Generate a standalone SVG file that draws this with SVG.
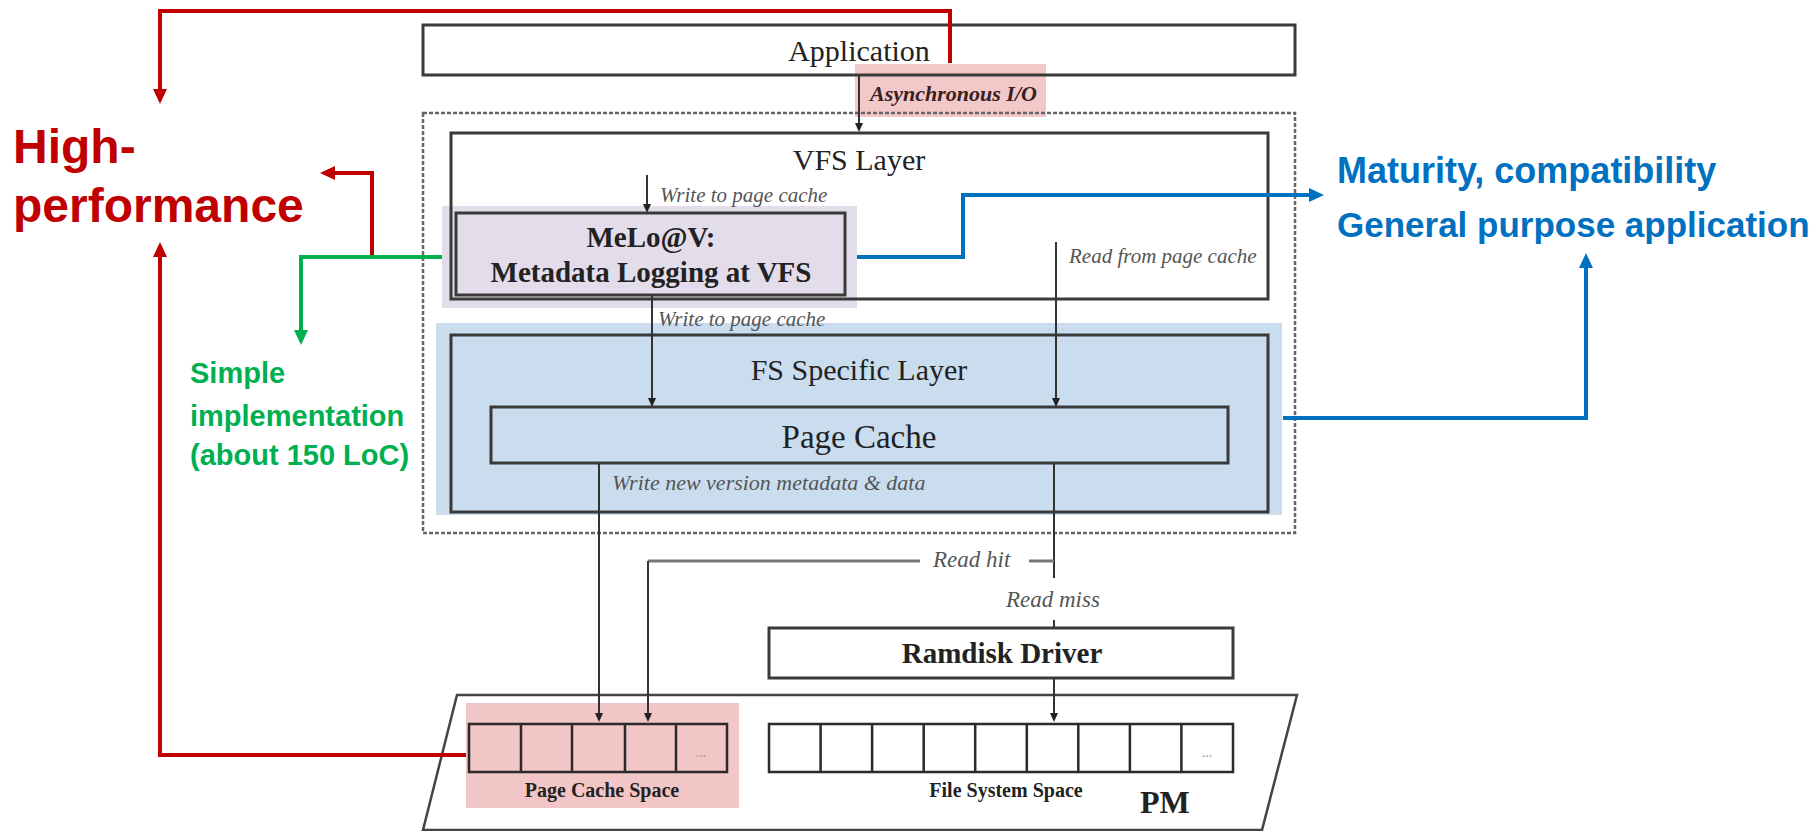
<svg xmlns="http://www.w3.org/2000/svg" width="1816" height="831" viewBox="0 0 1816 831">
<style>
.box{fill:none;stroke:#3a3a3a;stroke-width:3}
.cell{fill:none;stroke:#2a2a2a;stroke-width:2.5}
.serif{font-family:"Liberation Serif","Times New Roman",serif;fill:#222}
.lbl{font-family:"Liberation Serif","Times New Roman",serif;font-style:italic;fill:#555}
.sans{font-family:"Liberation Sans",Arial,sans-serif;font-weight:bold}
.ln{fill:none;stroke:#333;stroke-width:2}
.red{fill:none;stroke:#c00000;stroke-width:4}
.green{fill:none;stroke:#00b050;stroke-width:4}
.blue{fill:none;stroke:#0070c0;stroke-width:4}
</style>
<defs>
<marker id="ar" viewBox="0 0 15 14" markerWidth="15" markerHeight="14" refX="5" refY="7" orient="auto" markerUnits="userSpaceOnUse"><path d="M0,0 L15,7 L0,14 z" fill="#c00000"/></marker>
<marker id="ag" viewBox="0 0 15 14" markerWidth="15" markerHeight="14" refX="5" refY="7" orient="auto" markerUnits="userSpaceOnUse"><path d="M0,0 L15,7 L0,14 z" fill="#00b050"/></marker>
<marker id="ab" viewBox="0 0 15 14" markerWidth="15" markerHeight="14" refX="5" refY="7" orient="auto" markerUnits="userSpaceOnUse"><path d="M0,0 L15,7 L0,14 z" fill="#0070c0"/></marker>
<marker id="ak" viewBox="0 0 9 8" markerWidth="9" markerHeight="8" refX="6" refY="4" orient="auto" markerUnits="userSpaceOnUse"><path d="M0,0 L9,4 L0,8 z" fill="#222"/></marker>
</defs>
<rect width="1816" height="831" fill="#fff"/>

<g id="highlights">
<rect x="855" y="64" width="191" height="53" fill="#f2c8c8"/>
<rect x="442" y="206" width="415" height="102" fill="#e3dcea"/>
<rect x="436" y="323" width="846" height="192" fill="#c9ddef"/>
<rect x="466" y="703" width="273" height="105" fill="#f2c6c6"/>
</g>

<g id="kernel-boundary">
<rect x="423" y="113" width="872" height="420" fill="none" stroke="#666" stroke-width="2.5" stroke-dasharray="4 2"/>
</g>

<g id="application">
<rect class="box" x="423" y="25" width="872" height="50"/>
<text class="serif" x="859" y="61" font-size="30" text-anchor="middle">Application</text>
</g>

<g id="vfs-layer">
<rect class="box" x="451" y="133" width="817" height="166"/>
<text class="serif" x="859" y="170" font-size="30" text-anchor="middle">VFS Layer</text>
</g>

<g id="melo">
<rect class="box" x="456" y="213" width="389" height="82" stroke-width="4"/>
<text class="serif" x="651" y="247" font-size="29" font-weight="bold" text-anchor="middle">MeLo@V:</text>
<text class="serif" x="651" y="282" font-size="29" font-weight="bold" text-anchor="middle">Metadata Logging at VFS</text>
</g>

<g id="fs-specific-layer">
<rect class="box" x="451" y="335" width="817" height="177"/>
<text class="serif" x="859" y="380" font-size="30" text-anchor="middle">FS Specific Layer</text>
</g>

<g id="page-cache">
<rect class="box" x="491" y="407" width="737" height="56"/>
<text class="serif" x="859" y="448" font-size="33" text-anchor="middle">Page Cache</text>
</g>

<g id="ramdisk-driver">
<rect class="box" x="769" y="628" width="464" height="50"/>
<text class="serif" x="1002" y="663" font-size="29" font-weight="bold" text-anchor="middle">Ramdisk Driver</text>
</g>

<g id="pm">
<polygon points="457,695 1297,695 1262,830 423,830" fill="none" stroke="#444" stroke-width="2.5"/>
<text class="serif" x="1140" y="813" font-size="32" font-weight="bold">PM</text>
</g>

<g id="page-cache-space">
<rect class="cell" x="469" y="724" width="258" height="48"/>
<path class="cell" d="M521 724V772M572 724V772M625 724V772M676 724V772"/>
<text x="701" y="757" font-family="Liberation Serif,serif" font-size="14" fill="#999" text-anchor="middle">...</text>
<text class="serif" x="602" y="797" font-size="20" font-weight="bold" text-anchor="middle">Page Cache Space</text>
</g>

<g id="file-system-space">
<rect class="cell" x="769" y="724" width="464" height="48"/>
<path class="cell" d="M820.6 724V772M872.1 724V772M923.7 724V772M975.2 724V772M1026.8 724V772M1078.3 724V772M1129.9 724V772M1181.4 724V772"/>
<text x="1207" y="757" font-family="Liberation Serif,serif" font-size="14" fill="#999" text-anchor="middle">...</text>
<text class="serif" x="1006" y="797" font-size="20" font-weight="bold" text-anchor="middle">File System Space</text>
</g>

<g id="high-performance">
<text class="sans" x="13" y="163" font-size="48" fill="#c00000">High-</text>
<text class="sans" x="13" y="222" font-size="48" fill="#c00000">performance</text>
</g>

<g id="simple-implementation">
<text class="sans" x="190" y="383" font-size="29" fill="#00b050">Simple</text>
<text class="sans" x="190" y="426" font-size="29" fill="#00b050">implementation</text>
<text class="sans" x="190" y="465" font-size="29" fill="#00b050">(about 150 LoC)</text>
</g>

<g id="maturity">
<text class="sans" x="1337" y="183" font-size="36" fill="#0070c0">Maturity, compatibility</text>
<text class="sans" x="1337" y="237" font-size="35" fill="#0070c0">General purpose application</text>
</g>

<g id="connectors">
<path class="ln" d="M859 75V129" marker-end="url(#ak)"/>
<path class="ln" d="M647 175V210" marker-end="url(#ak)"/>
<path class="ln" d="M652 295V404" marker-end="url(#ak)"/>
<path class="ln" d="M1056 242V404" marker-end="url(#ak)"/>
<path class="ln" d="M599 463V719" marker-end="url(#ak)"/>
<path class="ln" d="M1054 463V578"/>
<path d="M1054 561H1029M920 561H648" fill="none" stroke="#777" stroke-width="3"/>
<path class="ln" d="M648 561V719" marker-end="url(#ak)"/>
<path class="ln" d="M1054 620V628"/>
<path class="ln" d="M1054 678V719" marker-end="url(#ak)"/>

<path class="red" d="M950 63V11H160V94" marker-end="url(#ar)"/>
<path class="red" d="M372 257V173H330" marker-end="url(#ar)"/>
<path class="red" d="M466 755H160V252" marker-end="url(#ar)"/>
<path class="green" d="M442 257H301V335" marker-end="url(#ag)"/>
<path class="blue" d="M857 257H963V195H1314" marker-end="url(#ab)"/>
<path class="blue" d="M1283 418H1586V263" marker-end="url(#ab)"/>
</g>

<g id="labels">
<text x="870" y="101" font-family="Liberation Serif,serif" font-size="22" font-weight="bold" font-style="italic" fill="#3a2020">Asynchronous I/O</text>
<text class="lbl" x="660" y="202" font-size="21">Write to page cache</text>
<text class="lbl" x="1069" y="263" font-size="21">Read from page cache</text>
<text class="lbl" x="658" y="326" font-size="21">Write to page cache</text>
<text class="lbl" x="612" y="490" font-size="22" fill="#333">Write new version metadata &amp; data</text>
<text class="lbl" x="933" y="567" font-size="23">Read hit</text>
<text class="lbl" x="1006" y="607" font-size="23">Read miss</text>
</g>
</svg>
